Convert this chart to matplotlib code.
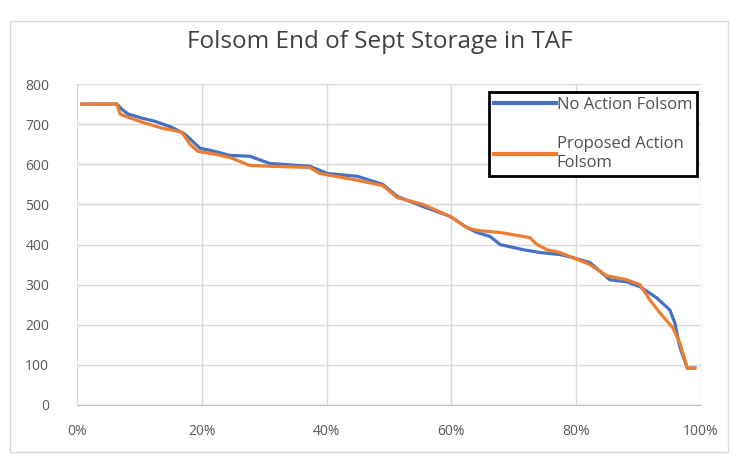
import matplotlib
matplotlib.use('Agg')
import matplotlib.pyplot as plt
from matplotlib.patches import Rectangle
from matplotlib.ticker import FuncFormatter

plt.rcParams['font.family'] = ['Open Sans', 'DejaVu Sans']

# exceedance (fraction of years) vs end of Sept storage (TAF)
no_action_x = [0.008, 0.064, 0.072, 0.082, 0.104, 0.125, 0.152, 0.173, 0.197, 0.221, 0.245,
               0.277, 0.309, 0.373, 0.401, 0.449, 0.490, 0.513, 0.554, 0.598, 0.625, 0.641,
               0.662, 0.678, 0.715, 0.742, 0.774, 0.795, 0.822, 0.854, 0.881, 0.902, 0.929,
               0.950, 0.958, 0.966, 0.978, 0.990]
no_action_y = [750, 750, 737, 725, 715, 707, 692, 675, 640, 632, 622,
               620, 602, 595, 577, 570, 550, 520, 495, 470, 442, 430,
               420, 400, 387, 380, 375, 367, 355, 312, 307, 295, 267,
               237, 205, 145, 92, 92]

proposed_x = [0.008, 0.064, 0.069, 0.082, 0.104, 0.136, 0.168, 0.181, 0.194, 0.221, 0.245,
              0.277, 0.309, 0.373, 0.389, 0.449, 0.490, 0.513, 0.554, 0.598, 0.625, 0.641,
              0.678, 0.726, 0.737, 0.753, 0.774, 0.795, 0.822, 0.849, 0.881, 0.902, 0.918,
              0.934, 0.955, 0.966, 0.978, 0.990]
proposed_y = [750, 750, 725, 717, 705, 690, 680, 650, 632, 625, 617,
              597, 595, 592, 577, 560, 547, 517, 500, 470, 442, 435,
              430, 417, 400, 387, 380, 367, 350, 322, 312, 300, 262,
              230, 192, 155, 92, 92]

blue = '#4472C4'
orange = '#ED7D31'

fig = plt.figure(figsize=(7.34, 4.54), dpi=100)
ax = fig.add_axes([77 / 734, 1 - 405 / 454, 624 / 734, 321 / 454])

ax.plot(no_action_x, no_action_y, color=blue, lw=2.3, label='No Action Folsom')
ax.plot(proposed_x, proposed_y, color=orange, lw=2.3, label='Proposed Action\nFolsom')

ax.set_xlim(0, 1)
ax.set_ylim(0, 800)
ax.set_xticks([0, 0.2, 0.4, 0.6, 0.8, 1.0])
ax.set_yticks(range(0, 801, 100))
ax.xaxis.set_major_formatter(FuncFormatter(lambda v, p: '{:.0f}%'.format(v * 100)))
ax.grid(True, color='#D9D9D9', lw=1)
ax.set_axisbelow(True)
for s in ['top', 'right', 'left']:
    ax.spines[s].set_visible(False)
ax.spines['bottom'].set_color('#BFBFBF')
ax.tick_params(length=0, labelsize=10, colors='#595959')
ax.tick_params(axis='y', pad=20)
ax.tick_params(axis='x', pad=14)

fig.text(380 / 734, 1 - 42 / 454, 'Folsom End of Sept Storage in TAF', fontsize=17.5,
         color='#404040', ha='center', va='center')

leg = ax.legend(loc='upper right', bbox_to_anchor=(0.994, 0.975), borderaxespad=0,
                fontsize=12, handlelength=3.7, handletextpad=0.05, labelspacing=1.4,
                fancybox=False, framealpha=1, edgecolor='black', labelcolor='#505050',
                borderpad=0.3)
leg.get_frame().set_linewidth(2)
for h in leg.get_lines():
    h.set_linewidth(3)

fig.patches.append(Rectangle((10 / 734, 2 / 454), 718 / 734, 431 / 454, transform=fig.transFigure,
                             fill=False, edgecolor='#D9D9D9', lw=1))

fig.savefig('out.png', dpi=100)
